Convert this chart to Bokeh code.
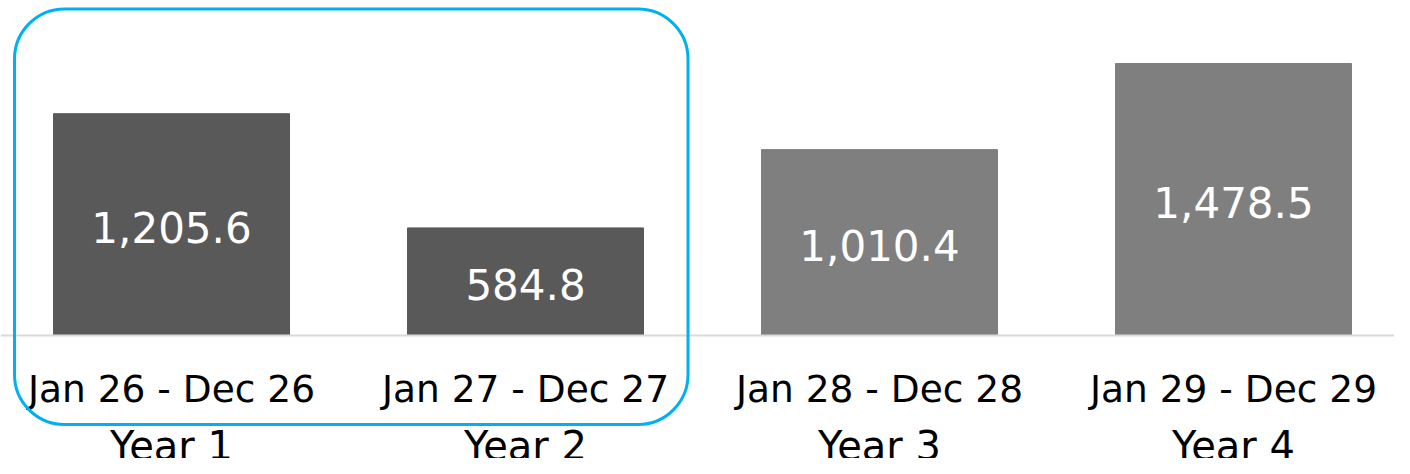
from bokeh.plotting import figure
from bokeh.models import Range1d, BoxAnnotation, Span, ColumnDataSource
from bokeh.core.properties import value
from bokeh.embed import file_html
from bokeh.resources import INLINE

# ---- data ----
years = ["Year 1", "Year 2", "Year 3", "Year 4"]
periods = ["Jan 26 - Dec 26", "Jan 27 - Dec 27", "Jan 28 - Dec 28", "Jan 29 - Dec 29"]
amounts = [1205.6, 584.8, 1010.4, 1478.5]
bar_colors = ["#595959", "#595959", "#7f7f7f", "#7f7f7f"]

FONT = value("DejaVu Sans")
PX = 0.18397      # pixels per data unit (vertical)
STEP = 354.0      # pixels per category (horizontal)
X0 = 171.0        # pixel centre of first bar
BASE = 335.0      # pixel row of the zero line
W, H = 1394, 458

idx = list(range(len(years)))
src = ColumnDataSource(dict(
    x=idx,
    top=amounts,
    color=bar_colors,
    label=["{:,.1f}".format(v) for v in amounts],
    label_y=[v / 2 + 13 / PX for v in amounts],
    period=periods,
    period_y=[-31 / PX] * len(idx),
    year=years,
    year_y=[-87 / PX] * len(idx),
))

p = figure(width=W, height=H,
           x_range=Range1d(-X0 / STEP, (W - X0) / STEP),
           y_range=Range1d(-(H - BASE) / PX, BASE / PX),
           output_backend="svg", toolbar_location=None,
           min_border=0)
p.min_border_left = p.min_border_right = p.min_border_top = p.min_border_bottom = 0
p.axis.visible = False
p.grid.visible = False
p.outline_line_color = None

p.vbar(x="x", top="top", bottom=0, width=236 / STEP, color="color", source=src)

p.add_layout(Span(location=0, dimension="width", line_color="#d9d9d9", line_width=2))

p.text(x="x", y="label_y", text="label", source=src, text_color="white",
       text_font=FONT, text_font_size="42px", text_align="center",
       text_baseline="top")
p.text(x="x", y="period_y", text="period", source=src, text_color="black",
       text_font=FONT, text_font_size="37.5px", text_align="center",
       text_baseline="top")
p.text(x="x", y="year_y", text="year", source=src, text_color="black",
       text_font=FONT, text_font_size="40px", text_align="center",
       text_baseline="top")

box = BoxAnnotation(left=(14 - X0) / STEP, right=(687.5 - X0) / STEP,
                    top=(BASE - 8.5) / PX, bottom=-(424 - BASE) / PX,
                    fill_color=None, fill_alpha=0,
                    line_color="#00b0f0", line_alpha=1.0, line_width=3,
                    border_radius=50)
p.add_layout(box)

open("out.html", "w").write(file_html(p, INLINE))
